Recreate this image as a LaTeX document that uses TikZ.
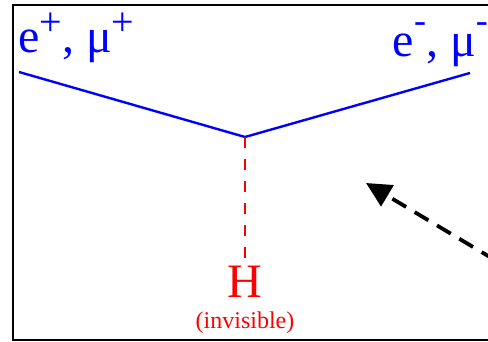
\documentclass[tikz,border=0pt]{standalone}
\usepackage{fontspec}
\setmainfont{Liberation Serif}
\usetikzlibrary{arrows.meta}
\definecolor{leptonblue}{RGB}{0,0,255}
\definecolor{higgsred}{RGB}{255,0,0}
\newcommand{\chgp}{\raisebox{.36em}{\fontsize{40}{40}\selectfont +}}
\newcommand{\chgm}{\raisebox{.5em}{\fontsize{36}{36}\selectfont -}}

\begin{document}
\begin{tikzpicture}[x=1pt,y=1pt,line cap=butt,
 lepton/.style={leptonblue,line width=2.4pt},
 higgs/.style={higgsred,line width=2pt,dash pattern=on 11pt off 11pt},
 lbl/.style={inner sep=0pt,font=\fontsize{48}{52}\selectfont}]
\useasboundingbox (0,0) rectangle (488,342);
\clip (0,0) rectangle (488,342);
\draw[line width=2pt] (12.5,2) rectangle (500,337);
% lepton pair meeting at the vertex
\coordinate (lin) at (19,270);
\coordinate (rout) at (470,269);
\coordinate (vtx) at (245,205);
\draw[lepton] (lin) -- (vtx) -- (rout);
\node[lbl,leptonblue,anchor=base west] (pos) at (18,289) {e\chgp, μ\chgp};
\node[lbl,leptonblue,anchor=base east] (neg) at (488,285) {e\chgm, μ\chgm};
% invisible higgs
\node[lbl,higgsred,anchor=base] (H) at (245,44) {H};
\node[inner sep=0pt,higgsred,anchor=base,font=\fontsize{24}{26}\selectfont] (inv) at (245,13) {(invisible)};
\draw[higgs] (vtx) -- (H.north) ;
% pointer from outside
\coordinate (src) at (540,55);
\coordinate (tip) at (366,159);
\draw[line width=3.8pt,dash pattern=on 16pt off 10pt,-{Triangle[length=25pt,width=24pt]}] (src) -- (tip);
\end{tikzpicture}
\end{document}
